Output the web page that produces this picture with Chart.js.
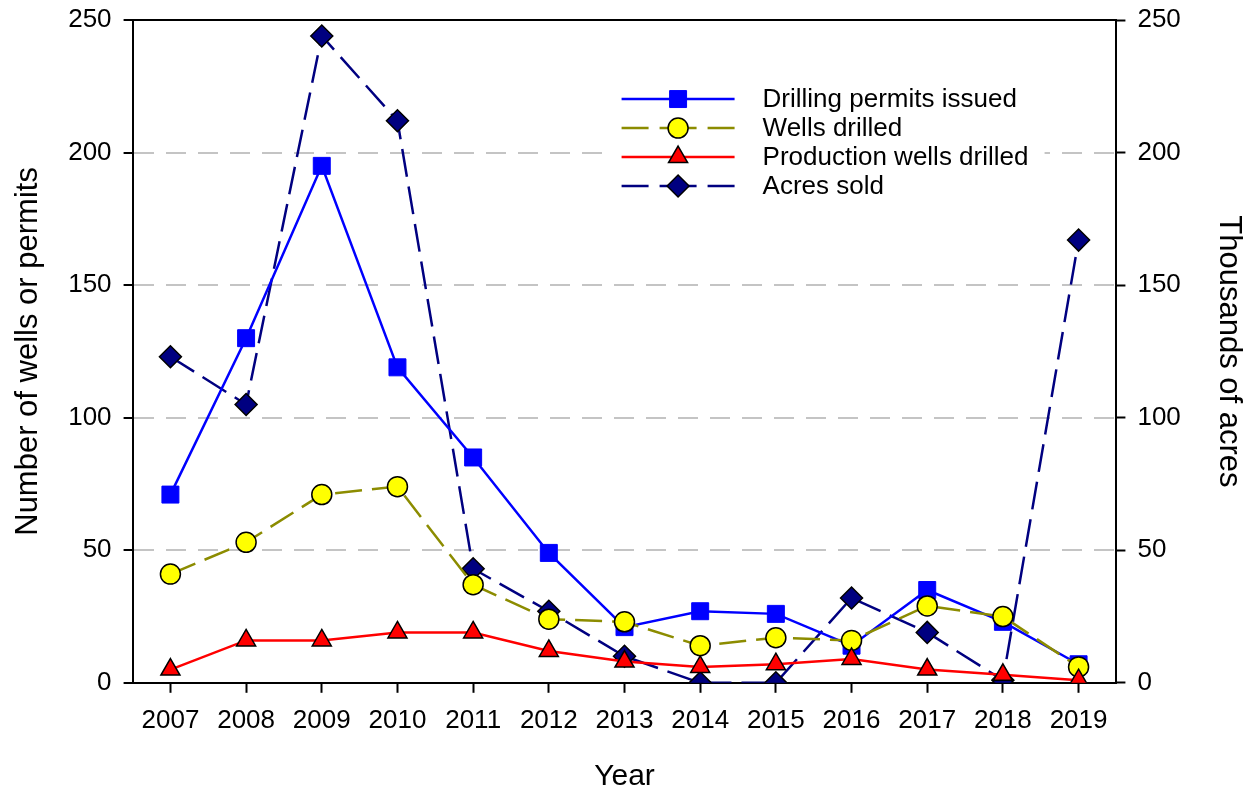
<!DOCTYPE html>
<html>
<head>
<meta charset="utf-8">
<script src="https://cdn.jsdelivr.net/npm/chart.js@4/dist/chart.umd.min.js"></script>
<style>
  html, body { margin: 0; padding: 0; background: #fff; }
  #canvas_div { width: 1247px; height: 795px; }
</style>
</head>
<body>
<div id="canvas_div"><canvas id="myChart" width="1247" height="795"></canvas></div>
<script>
// values
const years = ["2007", "2008", "2009", "2010", "2011", "2012", "2013", "2014", "2015", "2016", "2017", "2018", "2019"];
const permitsIssued = [71, 130, 195, 119, 85, 49, 21, 27, 26, 14, 35, 23, 7];
const wellsDrilled = [41, 53, 71, 74, 37, 24, 23, 14, 17, 16, 29, 25, 6];
const productionWells = [5, 16, 16, 19, 19, 12, 8, 6, 7, 9, 5, 3, 1];
const acresSold = [123, 105, 244, 212, 43, 27, 10, 0, 0, 32, 19, 1, 167];
const yTicks = [0, 50, 100, 150, 200, 250];

const FONT = "'Liberation Sans', Arial, sans-serif";

const datasets = [
  {
    label: "Drilling permits issued",
    data: permitsIssued,
    yAxisID: "y",
    order: 3,
    borderColor: "#0000ff",
    borderWidth: 2.5,
    pointStyle: "rect",
    pointRadius: 12,
    pointBackgroundColor: "#0000ff",
    pointBorderColor: "#0000ff",
    pointBorderWidth: 1,
  },
  {
    label: "Wells drilled",
    data: wellsDrilled,
    yAxisID: "y",
    order: 2,
    borderColor: "#8c8c00",
    borderWidth: 2.5,
    borderDash: [27, 10],
    pointStyle: "circle",
    pointRadius: 10,
    pointBackgroundColor: "#ffff00",
    pointBorderColor: "#000000",
    pointBorderWidth: 1.5,
  },
  {
    label: "Production wells drilled",
    data: productionWells,
    yAxisID: "y",
    order: 1,
    borderColor: "#ff0000",
    borderWidth: 2.5,
    pointStyle: "triangle",
    pointRadius: 11,
    pointBackgroundColor: "#ff0000",
    pointBorderColor: "#000000",
    pointBorderWidth: 1.5,
  },
  {
    label: "Acres sold",
    data: acresSold,
    yAxisID: "y1",
    order: 4,
    borderColor: "#000080",
    borderWidth: 2.5,
    borderDash: [28, 10],
    pointStyle: "rectRot",
    pointRadius: 11,
    pointBackgroundColor: "#000080",
    pointBorderColor: "#000000",
    pointBorderWidth: 1.5,
  },
];

// legend box drawn inside the plot, plus the top frame line
const boxLegend = {
  id: "boxLegend",
  afterDatasetsDraw(chart) {
    const ctx = chart.ctx;
    const area = chart.chartArea;
    ctx.save();
    ctx.strokeStyle = "#000";
    ctx.lineWidth = 2;
    ctx.beginPath();
    ctx.moveTo(area.left, area.top);
    ctx.lineTo(area.right, area.top);
    ctx.stroke();

    const x0 = area.left + 470;
    const y0 = area.top + 64;
    ctx.fillStyle = "#fff";
    ctx.fillRect(x0, y0, 442, 116);

    chart.data.datasets.forEach((ds, i) => {
      const y = y0 + 15 + i * 29;
      const lx1 = x0 + 19;
      const lx2 = x0 + 132;
      ctx.strokeStyle = ds.borderColor;
      ctx.lineWidth = ds.borderWidth;
      ctx.beginPath();
      if (ds.borderDash) {
        ctx.moveTo(lx1, y); ctx.lineTo(lx1 + 27, y);
        ctx.moveTo(lx1 + 38, y); ctx.lineTo(lx2 - 38, y);
        ctx.moveTo(lx2 - 27, y); ctx.lineTo(lx2, y);
      } else {
        ctx.moveTo(lx1, y); ctx.lineTo(lx2, y);
      }
      ctx.stroke();
      ctx.fillStyle = ds.pointBackgroundColor;
      ctx.strokeStyle = ds.pointBorderColor;
      ctx.lineWidth = ds.pointBorderWidth;
      Chart.helpers.drawPoint(ctx, {
        pointStyle: ds.pointStyle,
        radius: ds.pointRadius,
        borderWidth: ds.pointBorderWidth,
        rotation: 0,
      }, (lx1 + lx2) / 2, y);

      ctx.fillStyle = "#000";
      ctx.font = "26px " + FONT;
      ctx.textBaseline = "middle";
      ctx.textAlign = "left";
      ctx.fillText(ds.label, x0 + 160, y + 1);
    });
    ctx.restore();
  },
};

const gridColor = (c) => (c.tick && (c.tick.value === 0 || c.tick.value === 250)) ? "rgba(0,0,0,0)" : "#c4c4c4";

const config = {
  type: "line",
  data: { labels: years, datasets: datasets },
  options: {
    responsive: false,
    animation: false,
    layout: { padding: { left: 10, right: 0, top: 0, bottom: 0 } },
    plugins: { legend: { display: false }, tooltip: { enabled: false } },
    scales: {
      x: {
        offset: true,
        grid: { drawOnChartArea: false, drawTicks: true, tickLength: 10, tickColor: "#000", tickWidth: 2 },
        border: { display: true, color: "#000", width: 2 },
        ticks: { color: "#000", font: { size: 26, family: FONT }, padding: 12, maxRotation: 0 },
        title: { display: true, text: "Year", color: "#000", font: { size: 30, family: FONT }, padding: { top: 11, bottom: 0 } },
      },
      y: {
        position: "left",
        min: 0,
        max: 250,
        afterBuildTicks: (axis) => { axis.ticks = yTicks.map((v) => ({ value: v })); },
        grid: {
          color: gridColor,
          lineWidth: 2,
          tickLength: 9,
          tickColor: "#000",
          tickWidth: 2,
          tickBorderDash: [],
        },
        border: { display: true, color: "#000", width: 2, dash: [20, 12] },
        ticks: { color: "#000", font: { size: 26, family: FONT, lineHeight: 0.62 }, padding: 12 },
        title: { display: true, text: "Number of wells or permits", color: "#000", font: { size: 31, family: FONT }, padding: { top: 0, bottom: 9 } },
      },
      y1: {
        position: "right",
        min: 0,
        max: 250,
        afterBuildTicks: (axis) => { axis.ticks = yTicks.map((v) => ({ value: v })); },
        grid: { drawOnChartArea: false, tickLength: 9, tickColor: "#000", tickWidth: 2 },
        border: { display: true, color: "#000", width: 2 },
        ticks: { color: "#000", font: { size: 26, family: FONT, lineHeight: 0.62 }, padding: 12 },
        title: { display: true, text: "Thousands of acres", color: "#000", font: { size: 31, family: FONT }, padding: { top: 0, bottom: 17 } },
      },
    },
  },
  plugins: [boxLegend],
};

window.onload = () => {
  const myChart = new Chart(document.getElementById("myChart"), config);
};
</script>
</body>
</html>
